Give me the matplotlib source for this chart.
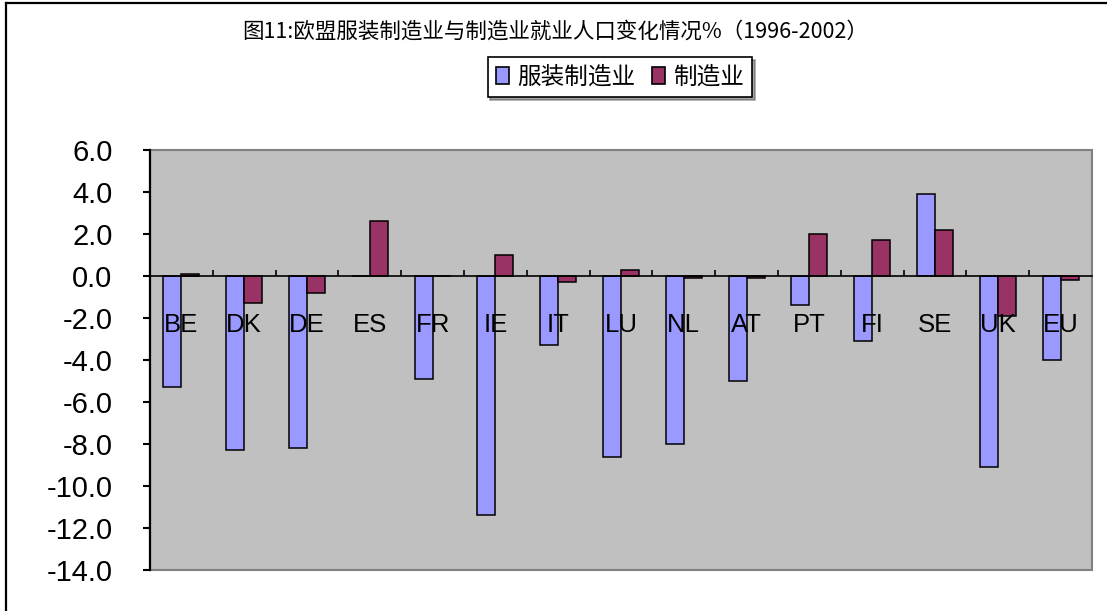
import numpy as np
import matplotlib
matplotlib.use("Agg")
import matplotlib.pyplot as plt
from matplotlib.lines import Line2D
from matplotlib.patches import Rectangle, Patch

categories = ["BE", "DK", "DE", "ES", "FR", "IE", "IT", "LU", "NL", "AT", "PT", "FI", "SE", "UK", "EU"]
apparel = [-5.3, -8.3, -8.2, 0.0, -4.9, -11.4, -3.3, -8.6, -8.0, -5.0, -1.4, -3.1, 3.9, -9.1, -4.0]
manufacturing = [0.1, -1.3, -0.8, 2.6, 0.0, 1.0, -0.3, 0.3, -0.1, -0.1, 2.0, 1.7, 2.2, -1.9, -0.2]
series_names = ["服装制造业", "制造业"]
title = "图11:欧盟服装制造业与制造业就业人口变化情况%（1996-2002）"
yticks = np.arange(-14, 7, 2)

blue = "#9999FF"
red = "#993366"
cjk = ["Noto Sans CJK SC", "DejaVu Sans"]

W, H = 1107, 611
fig = plt.figure(figsize=(W / 100, H / 100), dpi=100)
fig.patch.set_facecolor("white")

ax = fig.add_axes([150 / W, (H - 570) / H, (1092 - 150) / W, (570 - 150) / H])
ax.set_facecolor("#C0C0C0")

x = np.arange(len(categories))
w = 0.287
ax.bar(x - w / 2, apparel, w, color=blue, edgecolor="black", linewidth=1.1, zorder=3)
ax.bar(x + w / 2, manufacturing, w, color=red, edgecolor="black", linewidth=1.1, zorder=3)

ax.set_xlim(-0.5, len(categories) - 0.5)
ax.set_ylim(-14, 6)
ax.set_yticks(yticks)
ax.set_yticklabels([f"{v:.1f}" for v in yticks], fontfamily="Liberation Sans", fontsize=21)
ax.tick_params(axis="y", direction="out", length=5, width=1.5, pad=22, colors="black")

# x axis at zero with inward ticks at category boundaries
ax.spines["bottom"].set_position(("data", 0))
ax.spines["bottom"].set_color("black")
ax.spines["bottom"].set_linewidth(1.2)
ax.spines["bottom"].set_zorder(4)
ax.set_xticks(np.arange(-0.5, len(categories), 1))
ax.set_xticklabels([])
ax.tick_params(axis="x", direction="in", length=4, width=1.2, colors="black")
for s in ["top", "right"]:
    ax.spines[s].set_visible(False)
ax.spines["left"].set_color("black")
ax.spines["left"].set_linewidth(1.6)
ax.spines["left"].set_zorder(5)
ax.add_patch(Rectangle((0, 0), 1, 1, transform=ax.transAxes, fill=False,
                       edgecolor="#808080", linewidth=1.5, zorder=2, clip_on=False))

for xi, c in zip(x, categories):
    ax.text(xi, -2.35, c, ha="center", va="center", fontsize=18.5,
            fontfamily="Liberation Sans", color="black", zorder=6)

fig.text(555 / W, 1 - 32 / H, title, ha="center", va="center", fontsize=15.5, fontfamily=cjk)

handles = [Patch(facecolor=blue, edgecolor="black", linewidth=1.2),
           Patch(facecolor=red, edgecolor="black", linewidth=1.2)]
leg = fig.legend(handles, series_names, loc="center", bbox_to_anchor=(620 / W, 1 - 77 / H),
                 ncol=2, prop={"family": cjk, "size": 17}, frameon=True, fancybox=False,
                 shadow=True, edgecolor="black", handlelength=0.55, handleheight=0.75,
                 handletextpad=0.35, columnspacing=0.7, borderpad=0.35, borderaxespad=0)
leg.get_frame().set_linewidth(1.2)

# outer chart border (cropped at right and bottom)
fig.add_artist(Line2D([5.5 / W, 5.5 / W], [0, 1 - 2.5 / H], color="black", linewidth=1.6))
fig.add_artist(Line2D([5.5 / W, 1], [1 - 2.5 / H, 1 - 2.5 / H], color="black", linewidth=1.6))

fig.savefig("out.png", dpi=100)
